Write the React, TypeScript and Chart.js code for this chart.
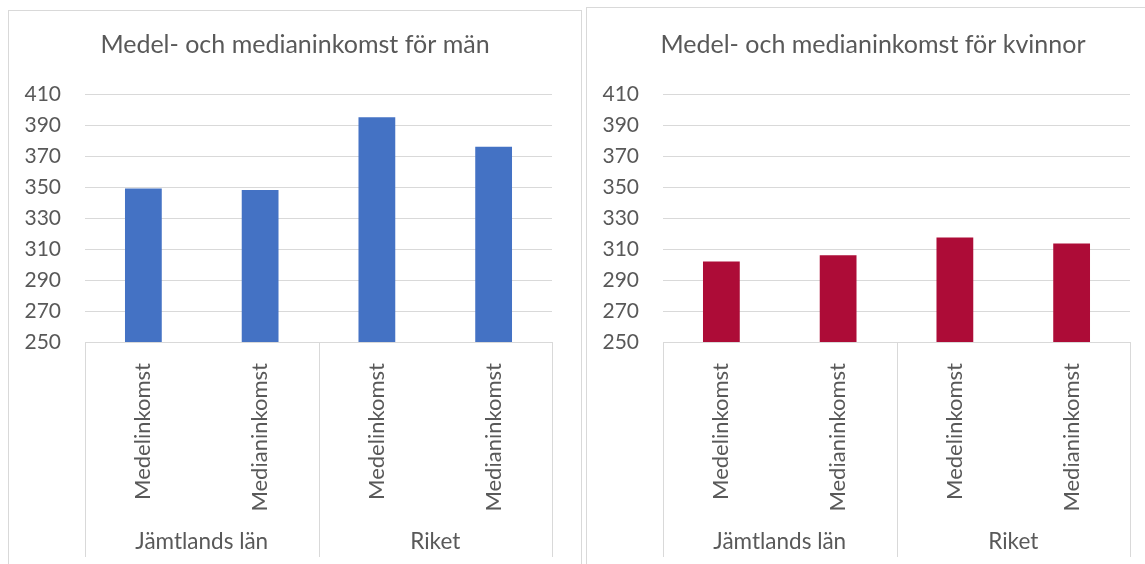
import React, { useEffect, useRef } from 'react';
import { Chart, registerables } from 'chart.js';

Chart.register(...registerables);

// ---- data ----
const categories = ['Medelinkomst', 'Medianinkomst', 'Medelinkomst', 'Medianinkomst'];
const groups = ['Jämtlands län', 'Riket'];
const menValues = [349, 348, 395, 376];
const womenValues = [302, 306, 317.5, 313.5];
const yMin = 250;
const yMax = 410;
const yStep = 20;
const titleMen = 'Medel- och medianinkomst för män';
const titleWomen = 'Medel- och medianinkomst för kvinnor';

// ---- styles ----
const FONT = 'Lato, "Open Sans", sans-serif';
const TEXT = '#595959';
const GRID = '#d9d9d9';
const BLUE = '#4472C4';
const RED = '#AD0C37';

const separatorPlugin = {
  id: 'groupSeparators',
  afterDraw(chart: any) {
    const x = chart.scales.x;
    const x2 = chart.scales.x2;
    const { ctx, chartArea } = chart;
    const per = categories.length / groups.length;
    ctx.save();
    ctx.strokeStyle = GRID;
    ctx.lineWidth = 1;
    for (let k = 0; k <= groups.length; k++) {
      const px = Math.round(x.getPixelForValue(k * per - 0.5)) + 0.5;
      ctx.beginPath();
      ctx.moveTo(px, chartArea.bottom);
      ctx.lineTo(px, x2.bottom);
      ctx.stroke();
    }
    ctx.restore();
  },
};

function BarChart({ values, color, title, left }: { values: number[]; color: string; title: string; left: number }) {
  const ref = useRef<HTMLCanvasElement>(null);
  useEffect(() => {
    const yFont = { family: FONT, size: 21, weight: 'normal' as const };
    const xFont = { family: FONT, size: 22, weight: 'normal' as const };
    const gFont = { family: FONT, size: 22.5, weight: 'normal' as const };
    const chart = new Chart(ref.current!, {
      type: 'bar',
      data: {
        labels: categories,
        datasets: [
          {
            data: values,
            backgroundColor: color,
            borderWidth: 0,
            categoryPercentage: 1,
            barPercentage: 0.315,
          },
        ],
      },
      options: {
        animation: false,
        responsive: false,
        maintainAspectRatio: false,
        layout: { padding: { left: 0, right: 0, top: 0, bottom: 7 } },
        plugins: {
          legend: { display: false },
          tooltip: { enabled: false },
          title: {
            display: true,
            text: title,
            color: TEXT,
            font: { family: FONT, size: 25, weight: 'normal' as const, lineHeight: 1.2 },
            padding: { top: 19, bottom: 34 },
          },
        },
        scales: {
          y: {
            min: yMin,
            max: yMax,
            ticks: { stepSize: yStep, color: TEXT, font: yFont, padding: 24 },
            grid: { color: GRID, drawTicks: false, lineWidth: 1 },
            border: { display: false },
            afterFit: (s: any) => {
              s.width = 76;
            },
          },
          yRight: {
            position: 'right',
            min: yMin,
            max: yMax,
            ticks: { display: false },
            grid: { display: false, drawTicks: false },
            border: { display: false },
            afterFit: (s: any) => {
              s.width = 29;
            },
          },
          x: {
            ticks: { minRotation: 90, maxRotation: 90, autoSkip: false, color: TEXT, font: xFont, padding: 21 },
            grid: { display: false, drawTicks: false },
            border: { display: true, color: GRID },
            afterFit: (s: any) => {
              s.height = 175;
            },
          },
          x2: {
            type: 'category',
            labels: groups,
            position: 'bottom',
            offset: true,
            ticks: { color: TEXT, font: gFont, padding: 11, autoSkip: false, maxRotation: 0 },
            grid: { display: false, drawTicks: false },
            border: { display: false },
            afterFit: (s: any) => {
              s.height = 40;
            },
          },
        },
      } as any,
      plugins: [separatorPlugin],
    });
    return () => chart.destroy();
  }, [values, color, title]);
  return (
    <canvas
      ref={ref}
      width={572}
      height={553}
      style={{ position: 'absolute', left, top: 11, width: 572, height: 553, display: 'block' }}
    />
  );
}

export default function App() {
  const box = (left: number, top: number) => ({
    position: 'absolute' as const,
    left,
    top,
    width: 574,
    height: 600,
    border: `1px solid ${GRID}`,
    boxSizing: 'border-box' as const,
  });
  return (
    <div style={{ position: 'fixed', inset: 0, overflow: 'hidden', background: '#fff' }}>
      <div style={box(8, 10)} />
      <div style={box(586, 7)} />
      <BarChart values={menValues} color={BLUE} title={titleMen} left={9} />
      <BarChart values={womenValues} color={RED} title={titleWomen} left={587} />
    </div>
  );
}
